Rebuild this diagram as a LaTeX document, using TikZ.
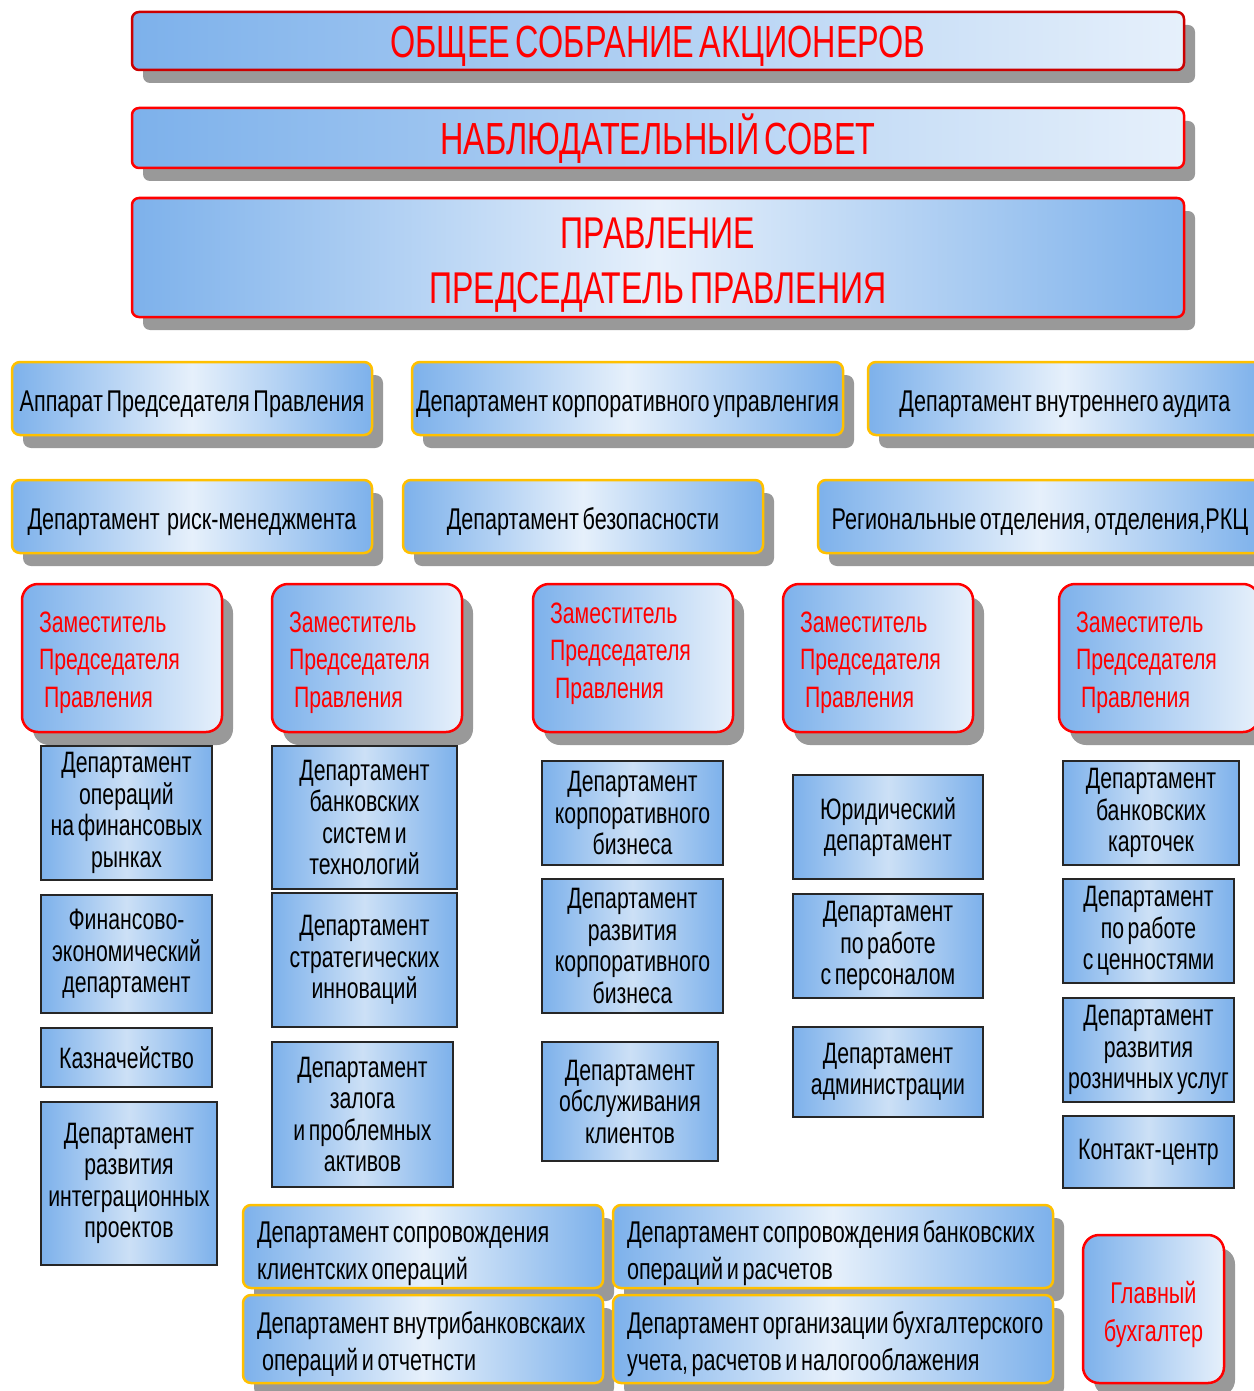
\documentclass[tikz,border=0pt]{standalone}
\usepackage{fontspec}
\setmainfont{Liberation Sans}[FakeStretch=0.72,WordSpace=0.6]
\usetikzlibrary{positioning,shadows}

\definecolor{blu}{RGB}{125,177,235}
\definecolor{pale}{RGB}{230,240,251}
\definecolor{midpale}{RGB}{204,224,246}
\definecolor{gold}{RGB}{255,192,0}
\definecolor{shade}{RGB}{153,153,153}

\begin{document}
\begin{tikzpicture}[x=1pt,y=-1pt,
            shad/.style={drop shadow={shadow xshift=11pt,shadow yshift=-13pt,fill=shade,opacity=1}},
            head/.style={draw=red,line width=2.5pt,rounded corners=7pt,left color=blu,right color=pale,text=red,shad,anchor=north west,outer sep=0pt,minimum width=1052pt,font=\fontsize{45}{50}\selectfont,text height=36pt,text depth=3pt},
            unit/.style={draw=gold,line width=2.5pt,rounded corners=8pt,left color=blu,right color=blu,middle color=pale,shad,anchor=north west,outer sep=0pt,inner xsep=2pt,minimum height=73pt,font=\fontsize{30}{37}\selectfont,text height=30pt,text depth=5pt},
            back/.style={unit,align=flush left,inner xsep=14pt,text width=#1,text height=24pt,text depth=33pt},
            dep/.style={draw=red,line width=2.5pt,rounded corners=16pt,left color=blu,right color=pale,text=red,shad,anchor=north west,outer sep=0pt,minimum height=148pt,inner xsep=17pt,text width=#1,align=flush left,font=\fontsize{29.5}{37.5}\selectfont,text height=10pt,text depth=62pt},
            dept/.style 2 args={draw=black!85,line width=2pt,left color=blu,right color=blu,middle color=midpale,anchor=north west,outer sep=0pt,inner sep=2pt,align=center,minimum width=#1pt,minimum height=#2pt,font=\fontsize{29.5}{31.5}\selectfont}
          ]
          \useasboundingbox (0,0) rectangle (1253,1391);

          %governing bodies
          \node[head,draw=red!80!black,minimum height=58pt] (gm) at (132,12) {ОБЩЕЕ СОБРАНИЕ АКЦИОНЕРОВ};
          \node[head,minimum height=60pt] (sb) at (132,108) {НАБЛЮДАТЕЛЬНЫЙ СОВЕТ};
          \node[head,right color=blu,middle color=pale,minimum height=119pt,align=center,font=\fontsize{44.5}{55}\selectfont,text height=95pt,text depth=4pt] (board) at (132,198) {ПРАВЛЕНИЕ\\ПРЕДСЕДАТЕЛЬ ПРАВЛЕНИЯ};

          %staff units
          \node[unit,minimum width=360pt] (ap) at (12,362) {Аппарат Председателя Правления};
          \node[unit,minimum width=431pt] (kor) at (412,362) {Департамент корпоративного управленгия};
          \node[unit,minimum width=394pt] (aud) at (868,362) {Департамент внутреннего аудита};
          \node[unit,minimum width=360pt] (risk) at (12,480) {Департамент~ риск-менеджмента};
          \node[unit,minimum width=360pt] (sec) at (403,480) {Департамент безопасности};
          \node[unit,minimum width=444pt] (reg) at (818,480) {Региональные отделения, отделения,РКЦ};

          %deputies
          \node[dep=166pt] (z1) at (22,584) {Заместитель\\Председателя\\\hspace*{5pt}Правления};
          \node[dep=156pt] (z2) at (272,584) {Заместитель\\Председателя\\\hspace*{5pt}Правления};
          \node[dep=166pt,text depth=80pt] (z3) at (533,584) {Заместитель\\Председателя\\\hspace*{5pt}Правления};
          \node[dep=156pt] (z4) at (783,584) {Заместитель\\Председателя\\\hspace*{5pt}Правления};
          \node[dep=166pt] (z5) at (1059,584) {Заместитель\\Председателя\\\hspace*{5pt}Правления};

          %departments
          \node[dept={171}{134}] (f1) at (41,746) {Департамент\\операций\\на финансовых\\рынках};
          \node[dept={171}{118},below right=15pt and 0pt of f1.south west] (f2) {Финансово-\\экономический\\департамент};
          \node[dept={171}{59},below right=15pt and 0pt of f2.south west] (f3) {Казначейство};
          \node[dept={176}{163},below right=15pt and 0pt of f3.south west] (f4) {Департамент\\развития\\интеграционных\\проектов};

          \node[dept={185}{143}] (b1) at (272,746) {Департамент\\банковских\\систем и\\технологий};
          \node[dept={185}{134},below right=4pt and 0pt of b1.south west] (b2) {Департамент\\стратегических\\инноваций};
          \node[dept={181}{145},below right=15pt and 0pt of b2.south west] (b3) {Департамент\\залога\\и проблемных\\активов};

          \node[dept={181}{104}] (c1) at (542,761) {Департамент\\корпоративного\\бизнеса};
          \node[dept={181}{134},below right=14pt and 0pt of c1.south west] (c2) {Департамент\\развития\\корпоративного\\бизнеса};
          \node[dept={176}{119},below right=29pt and 0pt of c2.south west] (c3) {Департамент\\обслуживания\\клиентов};

          \node[dept={190}{104}] (p1) at (793,775) {Юридический\\департамент};
          \node[dept={190}{104},below right=15pt and 0pt of p1.south west] (p2) {Департамент\\по работе\\с персоналом};
          \node[dept={190}{90},below right=29pt and 0pt of p2.south west] (p3) {Департамент\\администрации};

          \node[dept={176}{104}] (r1) at (1063,761) {Департамент\\банковских\\карточек};
          \node[dept={171}{104},below right=14pt and 0pt of r1.south west] (r2) {Департамент\\по работе\\с ценностями};
          \node[dept={171}{104},below right=15pt and 0pt of r2.south west] (r3) {Департамент\\развития\\розничных услуг};
          \node[dept={171}{72},below right=14pt and 0pt of r3.south west] (r4) {Контакт-центр};

          %back office
          \node[back=332pt,minimum height=83pt] (soc) at (243,1205) {\mbox{Департамент сопровождения}\\\mbox{клиентских операций}};
          \node[back=332pt,minimum height=88pt,text height=23pt,text depth=35pt,below right=7pt and 0pt of soc.south west] (ibo) {\mbox{Департамент внутрибанковскаих}\\\mbox{\hspace*{5pt}операций и отчетнсти}};
          \node[back=412pt,minimum height=83pt] (sbo) at (613,1205) {\mbox{Департамент сопровождения банковских}\\\mbox{операций и расчетов}};
          \node[back=412pt,minimum height=88pt,text height=23pt,text depth=35pt,below right=7pt and 0pt of sbo.south west] (buh) {\mbox{Департамент организации бухгалтерского}\\\mbox{учета, расчетов и налогооблажения}};

          %chief accountant
          \node[dep=107pt,align=center,text depth=22pt,font=\fontsize{30}{38}\selectfont] (chief) at (1083,1235) {Главный\\бухгалтер};
\end{tikzpicture}
\end{document}
